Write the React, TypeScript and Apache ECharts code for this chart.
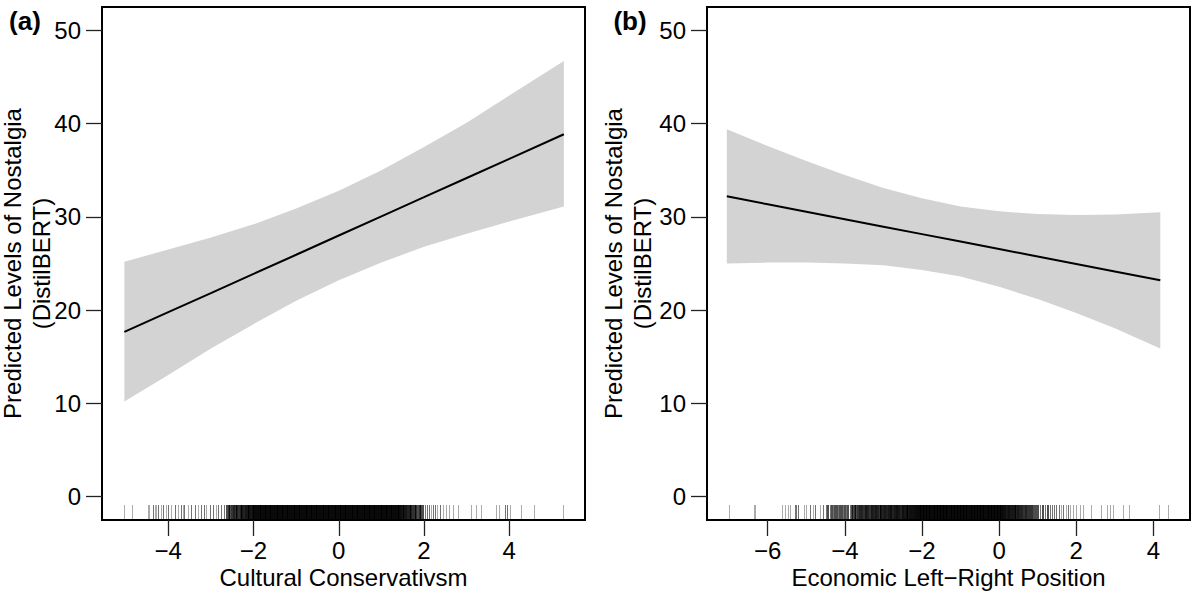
import React, { useEffect, useRef } from "react";
import * as echarts from "echarts";

// ---------- data ----------
const yTicks = [0, 10, 20, 30, 40, 50];
const xTicksA = [-4, -2, 0, 2, 4];
const xTicksB = [-6, -4, -2, 0, 2, 4];

const xTitleA = "Cultural Conservativsm";
const xTitleB = "Economic Left\u2212Right Position";
const yTitle1 = "Predicted Levels of Nostalgia";
const yTitle2 = "(DistilBERT)";

// panel (a): fitted line and 95% band
const bandXA = [-5.03, -4, -3, -2, -1, 0, 1, 2, 3, 4, 5.28];
const fitA = [17.66, 19.78, 21.83, 23.89, 25.94, 28.0, 30.06, 32.11, 34.17, 36.22, 38.86];
const upperA = [25.2, 26.5, 27.8, 29.2, 30.9, 32.8, 35.0, 37.5, 40.1, 43.0, 46.7];
const lowerA = [10.2, 13.05, 15.9, 18.5, 21.0, 23.2, 25.1, 26.8, 28.2, 29.5, 31.1];

// panel (b)
const bandXB = [-7.06, -6, -5, -4, -3, -2, -1, 0, 1, 2, 3, 4.18];
const fitB = [32.2, 31.35, 30.55, 29.75, 28.95, 28.15, 27.35, 26.55, 25.75, 24.95, 24.15, 23.2];
const upperB = [39.4, 37.6, 36.0, 34.5, 33.1, 32.0, 31.1, 30.6, 30.3, 30.2, 30.25, 30.5];
const lowerB = [25.0, 25.1, 25.1, 25.0, 24.8, 24.3, 23.6, 22.5, 21.2, 19.7, 18.05, 15.9];

// rug: [position, number of observations]
const rugA: [number, number][] = [
  [-5.03, 1], [-4.85, 1],
  [-4.47, 1], [-4.43, 1], [-4.35, 2], [-4.31, 1], [-4.27, 1], [-4.23, 2], [-4.15, 1], [-4.12, 2], [-4.04, 1], [-4.0, 2],
  [-3.92, 1], [-3.84, 2], [-3.77, 1], [-3.69, 2], [-3.65, 1], [-3.61, 2], [-3.53, 1], [-3.45, 2], [-3.37, 2], [-3.3, 1],
  [-3.22, 2], [-3.14, 2], [-3.1, 1], [-3.02, 2], [-2.94, 2], [-2.86, 1], [-2.83, 2], [-2.75, 2], [-2.67, 2], [-2.62, 3],
  [-2.58, 4], [-2.55, 3], [-2.5, 4], [-2.46, 5], [-2.42, 4], [-2.38, 5], [-2.34, 4], [-2.3, 5], [-2.26, 6], [-2.22, 5],
  [-2.18, 6], [-2.14, 6], [-2.1, 7], [-2.06, 6], [-2.02, 7],
  [-1.98, 8], [-1.94, 8], [-1.9, 8], [-1.86, 8], [-1.82, 8], [-1.78, 8], [-1.74, 8], [-1.7, 8], [-1.66, 8], [-1.62, 8],
  [-1.58, 8], [-1.54, 8], [-1.5, 8], [-1.46, 8], [-1.42, 8], [-1.38, 8], [-1.34, 8], [-1.3, 8], [-1.26, 8], [-1.22, 8],
  [-1.18, 8], [-1.14, 8], [-1.1, 8], [-1.06, 8], [-1.02, 8], [-0.98, 8], [-0.94, 8], [-0.9, 8], [-0.86, 8], [-0.82, 8],
  [-0.78, 8], [-0.74, 8], [-0.7, 8], [-0.66, 8], [-0.62, 8], [-0.58, 8], [-0.54, 8], [-0.5, 8], [-0.46, 8], [-0.42, 8],
  [-0.38, 8], [-0.34, 8], [-0.3, 8], [-0.26, 8], [-0.22, 8], [-0.18, 8], [-0.14, 8], [-0.1, 8], [-0.06, 8], [-0.02, 8],
  [0.02, 8], [0.06, 8], [0.1, 8], [0.14, 8], [0.18, 8], [0.22, 8], [0.26, 8], [0.3, 8], [0.34, 8], [0.38, 8],
  [0.42, 8], [0.46, 8], [0.5, 8], [0.54, 8], [0.58, 8], [0.62, 8], [0.66, 8], [0.7, 8], [0.74, 8], [0.78, 8],
  [0.82, 8], [0.86, 8], [0.9, 8], [0.94, 8], [0.98, 8], [1.02, 8], [1.06, 8], [1.1, 8], [1.14, 8], [1.18, 8],
  [1.22, 8], [1.26, 8], [1.3, 8], [1.34, 8], [1.38, 8], [1.42, 8],
  [1.46, 7], [1.5, 6], [1.54, 6], [1.58, 6], [1.62, 5], [1.66, 5], [1.7, 5], [1.74, 4], [1.78, 4], [1.82, 4],
  [1.86, 3], [1.9, 4], [1.94, 3], [1.98, 3], [2.03, 2], [2.08, 2], [2.12, 2], [2.17, 1], [2.22, 2], [2.27, 2],
  [2.32, 1], [2.38, 2], [2.45, 1], [2.52, 1], [2.6, 1], [2.68, 1], [2.8, 1],
  [3.12, 1], [3.24, 1], [3.35, 1], [3.7, 1], [3.77, 1], [3.9, 2], [3.96, 2], [4.02, 1], [4.29, 1], [4.6, 1], [5.28, 1],
];

const rugB: [number, number][] = [
  [-7.0, 1], [-6.34, 1], [-6.32, 1],
  [-5.62, 1], [-5.55, 1], [-5.47, 1], [-5.4, 1], [-5.29, 2], [-5.25, 2], [-5.21, 2], [-5.05, 1], [-4.99, 1], [-4.9, 2],
  [-4.82, 1], [-4.75, 2], [-4.64, 1], [-4.56, 2], [-4.47, 2], [-4.43, 3], [-4.38, 2], [-4.34, 3], [-4.29, 2], [-4.25, 3],
  [-4.21, 3], [-4.17, 2], [-4.12, 3], [-4.08, 3], [-4.04, 2], [-4.0, 3], [-3.95, 2], [-3.91, 3], [-3.86, 2], [-3.82, 3],
  [-3.78, 3], [-3.74, 4], [-3.7, 3], [-3.65, 4], [-3.6, 5], [-3.55, 5], [-3.5, 4], [-3.45, 6], [-3.4, 5], [-3.35, 4],
  [-3.3, 6], [-3.25, 5], [-3.2, 6], [-3.15, 5], [-3.1, 4], [-3.05, 6], [-3.0, 5], [-2.95, 6], [-2.9, 5], [-2.85, 6],
  [-2.8, 7], [-2.75, 5], [-2.7, 6], [-2.65, 7], [-2.6, 6], [-2.55, 5], [-2.5, 7], [-2.45, 6], [-2.4, 7], [-2.35, 6],
  [-2.3, 7], [-2.25, 7], [-2.2, 7], [-2.15, 8], [-2.1, 8],
  [-2.06, 8], [-2.02, 8], [-1.98, 8], [-1.94, 8], [-1.9, 8], [-1.86, 8], [-1.82, 8], [-1.78, 8], [-1.74, 8], [-1.7, 8],
  [-1.66, 8], [-1.62, 8], [-1.58, 8], [-1.54, 8], [-1.5, 8], [-1.46, 8], [-1.42, 8], [-1.38, 8], [-1.34, 8], [-1.3, 8],
  [-1.26, 8], [-1.22, 8], [-1.18, 8], [-1.14, 8], [-1.1, 8], [-1.06, 8], [-1.02, 8], [-0.98, 8], [-0.94, 8], [-0.9, 8],
  [-0.86, 8], [-0.82, 8], [-0.78, 8], [-0.74, 8], [-0.7, 8], [-0.66, 8], [-0.62, 8], [-0.58, 8], [-0.54, 8], [-0.5, 8],
  [-0.46, 8], [-0.42, 8], [-0.38, 8], [-0.34, 8], [-0.3, 8], [-0.26, 8], [-0.22, 8], [-0.18, 8], [-0.14, 8], [-0.1, 8],
  [-0.06, 8], [-0.02, 8], [0.02, 8], [0.06, 8], [0.1, 8],
  [0.15, 7], [0.2, 6], [0.25, 7], [0.3, 6], [0.35, 6], [0.4, 6], [0.45, 5], [0.5, 6], [0.55, 5], [0.6, 5],
  [0.65, 4], [0.7, 5], [0.75, 4], [0.8, 4], [0.85, 4], [0.9, 3], [0.96, 3], [1.02, 3], [1.08, 2], [1.14, 3],
  [1.2, 2], [1.26, 3], [1.32, 2], [1.38, 2], [1.44, 2], [1.5, 2], [1.56, 2], [1.62, 1], [1.68, 2], [1.74, 1],
  [1.8, 2], [1.85, 1],
  [1.93, 1], [2.01, 1], [2.1, 1], [2.18, 1], [2.4, 1], [2.66, 1], [2.81, 1], [2.88, 1], [2.96, 1], [3.22, 1],
  [3.38, 1], [4.17, 1], [4.39, 1],
];

// ---------- styling ----------
const FONT = "'Liberation Sans', Arial, Helvetica, sans-serif";
const Y_MIN = -2.5;
const Y_MAX = 52.5;
const RUG_TOP = -0.85;
const ALPHA = 0.33;
const BAND = "#d3d3d3";

const fmt = (v: number) => (v < 0 ? "\u2212" + Math.abs(v) : String(v));

function bandSeries(xs: number[], up: number[], lo: number[], idx: number) {
  return {
    type: "custom",
    xAxisIndex: idx,
    yAxisIndex: idx,
    data: xs.map((x, i) => [x, up[i], lo[i]]),
    encode: { x: 0, y: [1, 2] },
    silent: true,
    z: 1,
    renderItem: (params: any, api: any) => {
      if (params.dataIndex !== 0) return null;
      const pts: number[][] = [];
      for (let i = 0; i < xs.length; i++) pts.push(api.coord([xs[i], up[i]]));
      for (let i = xs.length - 1; i >= 0; i--) pts.push(api.coord([xs[i], lo[i]]));
      return { type: "polygon", shape: { points: pts }, style: { fill: BAND } };
    },
  };
}

function lineSeries(xs: number[], ys: number[], idx: number) {
  return {
    type: "line",
    xAxisIndex: idx,
    yAxisIndex: idx,
    data: xs.map((x, i) => [x, ys[i]]),
    showSymbol: false,
    symbol: "none",
    silent: true,
    z: 2,
    lineStyle: { color: "#000", width: 2 },
  };
}

function rugSeries(data: [number, number][], idx: number) {
  return {
    type: "custom",
    xAxisIndex: idx,
    yAxisIndex: idx,
    data: data.map((d) => [d[0], Y_MIN]),
    encode: { x: 0, y: 1 },
    silent: true,
    z: 3,
    renderItem: (params: any, api: any) => {
      const d = data[params.dataIndex];
      const n = d[1];
      const p1 = api.coord([d[0], Y_MIN]);
      const p2 = api.coord([d[0], RUG_TOP]);
      const a = 1 - Math.pow(1 - ALPHA, n);
      const dense = n >= 3;
      const w = dense ? 2 : 1;
      const px = dense ? Math.round(p1[0]) : Math.floor(p1[0]) + 0.5;
      return {
        type: "line",
        shape: { x1: px, y1: p1[1], x2: px, y2: Math.round(p2[1]) },
        style: { stroke: "#000", opacity: a, lineWidth: w },
      };
    },
  };
}

function xAxis(idx: number, min: number, max: number, ticks: number[]) {
  return {
    gridIndex: idx,
    type: "value",
    min,
    max,
    splitLine: { show: false },
    axisLine: { show: true, onZero: false, lineStyle: { color: "#000", width: 2 } },
    axisTick: { show: true, customValues: ticks, length: 16, inside: false, lineStyle: { color: "#222", width: 1.3 } },
    axisLabel: {
      customValues: ticks,
      formatter: fmt,
      fontSize: 24,
      lineHeight: 24,
      fontFamily: FONT,
      color: "#000",
      margin: 18,
    },
  };
}

function yAxis(idx: number) {
  return {
    gridIndex: idx,
    type: "value",
    min: Y_MIN,
    max: Y_MAX,
    splitLine: { show: false },
    axisLine: { show: true, onZero: false, lineStyle: { color: "#000", width: 2 } },
    axisTick: { show: true, customValues: yTicks, length: 16, inside: false, lineStyle: { color: "#222", width: 1.3 } },
    axisLabel: {
      customValues: yTicks,
      formatter: fmt,
      fontSize: 24,
      fontFamily: FONT,
      color: "#000",
      margin: 21,
    },
  };
}

function txt(text: string, x: number, y: number, extra: any = {}) {
  return {
    type: "text",
    x,
    y,
    silent: true,
    style: {
      text,
      fill: "#000",
      font: `24px ${FONT}`,
      align: "center",
      verticalAlign: "middle",
      ...(extra.style || {}),
    },
    rotation: extra.rotation || 0,
  };
}

export default function App() {
  const ref = useRef<HTMLDivElement>(null);

  useEffect(() => {
    if (!ref.current) return;
    const chart = echarts.init(ref.current, undefined, { renderer: "svg" });
    const gridCommon = {
      show: true,
      borderColor: "#000",
      borderWidth: 2,
      backgroundColor: "transparent",
      containLabel: false,
      outerBoundsMode: "none",
    };
    chart.setOption({
      animation: false,
      backgroundColor: "#fff",
      grid: [
        { ...gridCommon, left: 102, top: 7, width: 483, height: 513 },
        { ...gridCommon, left: 707, top: 7, width: 483, height: 513 },
      ],
      xAxis: [xAxis(0, -5.555, 5.776, xTicksA), xAxis(1, -7.574, 4.95, xTicksB)],
      yAxis: [yAxis(0), yAxis(1)],
      series: [
        bandSeries(bandXA, upperA, lowerA, 0),
        lineSeries(bandXA, fitA, 0),
        rugSeries(rugA, 0),
        bandSeries(bandXB, upperB, lowerB, 1),
        lineSeries(bandXB, fitB, 1),
        rugSeries(rugB, 1),
      ],
      graphic: [
        txt("(a)", 25, 21, { style: { font: `bold 26px ${FONT}` } }),
        txt("(b)", 630, 21, { style: { font: `bold 26px ${FONT}` } }),
        txt(yTitle1, 12.5, 263.5, { rotation: Math.PI / 2 }),
        txt(yTitle2, 41.5, 263.5, { rotation: Math.PI / 2 }),
        txt(yTitle1, 613.5, 263.5, { rotation: Math.PI / 2 }),
        txt(yTitle2, 642.5, 263.5, { rotation: Math.PI / 2 }),
        txt(xTitleA, 343.5, 577.5),
        txt(xTitleB, 948.5, 577.5),
      ],
    });
    return () => chart.dispose();
  }, []);

  return (
    <div
      ref={ref}
      style={{ position: "fixed", left: 0, top: 0, width: 1192, height: 597, background: "#fff" }}
    />
  );
}
